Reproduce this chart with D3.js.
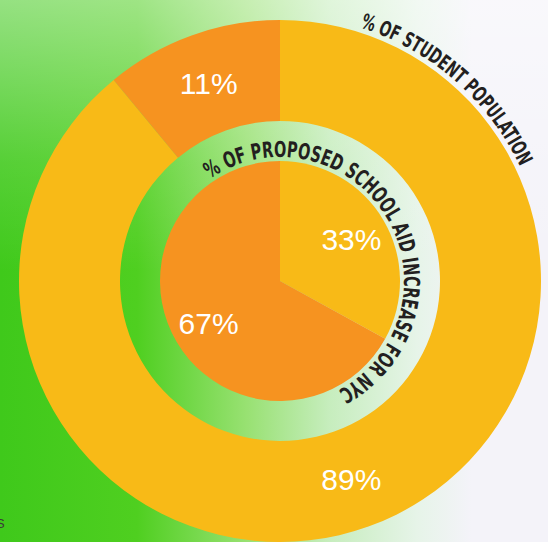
<!DOCTYPE html>
<html>
<head>
<meta charset="utf-8">
<script src="https://cdn.jsdelivr.net/npm/d3@7"></script>
<style>
  html, body { margin: 0; padding: 0; background: #f4f3f9; }
  svg { display: block; }
</style>
</head>
<body>
<svg width="548" height="542"></svg>
<script>
var svg = d3.select('svg');
var svgWidth = +svg.attr('width');
var svgHeight = +svg.attr('height');

// chart data
var outerLabels = ['89%', '11%'];
var outerValues = [89, 11];
var innerLabels = ['33%', '67%'];
var innerValues = [33, 67];
var sliceColors = ['#f8ba17', '#f69320'];
var outerTitle = '% OF STUDENT POPULATION';
var innerTitle = '% OF PROPOSED SCHOOL AID INCREASE FOR NYC';

// layout
var cx = 280, cy = 281;
var outerR = 261, holeR = 160, pieR = 120;

// background: green wash on the left fading to lavender on the right
var defs = svg.append('defs');
var bgGrad = defs.append('linearGradient')
    .attr('id', 'bg')
    .attr('x1', 0).attr('y1', 0).attr('x2', 1).attr('y2', 0);
[[0, '#3fc91b'], [0.25, '#4fcf20'], [0.45, '#98e172'], [0.6, '#c6edbd'],
 [0.76, '#e6f4e8'], [0.86, '#f4f3f9'], [1, '#f4f3f9']].forEach(function(s) {
    bgGrad.append('stop').attr('offset', s[0]).attr('stop-color', s[1]);
});
var topGrad = defs.append('linearGradient')
    .attr('id', 'topfade')
    .attr('x1', 0).attr('y1', 0).attr('x2', 0).attr('y2', 1);
topGrad.append('stop').attr('offset', 0).attr('stop-color', '#ffffff').attr('stop-opacity', 0.45);
topGrad.append('stop').attr('offset', 0.3).attr('stop-color', '#ffffff').attr('stop-opacity', 0.12);
topGrad.append('stop').attr('offset', 0.5).attr('stop-color', '#ffffff').attr('stop-opacity', 0);

svg.append('rect')
    .attr('width', svgWidth).attr('height', svgHeight)
    .attr('fill', 'url(#bg)');
svg.append('rect')
    .attr('width', svgWidth).attr('height', svgHeight)
    .attr('fill', 'url(#topfade)');

var g = svg.append('g')
    .attr('transform', 'translate(' + [cx, cy] + ')');

var pie = d3.pie().sort(null).value(function(d) { return d; });

// outer ring
var outerArc = d3.arc().innerRadius(holeR).outerRadius(outerR);
var outerData = pie(outerValues);
g.selectAll('.outer')
    .data(outerData)
    .enter()
    .append('path')
    .attr('class', 'outer')
    .attr('d', outerArc)
    .attr('fill', function(d, i) { return sliceColors[i]; });

// inner pie
var innerArc = d3.arc().innerRadius(0).outerRadius(pieR);
var innerData = pie(innerValues);
g.selectAll('.inner')
    .data(innerData)
    .enter()
    .append('path')
    .attr('class', 'inner')
    .attr('d', innerArc)
    .attr('fill', function(d, i) { return sliceColors[i]; });

// percentage labels
var labelFont = '"Helvetica Neue", "Liberation Sans", Arial, sans-serif';
g.selectAll('.outer-label')
    .data(outerData)
    .enter()
    .append('text')
    .attr('class', 'outer-label')
    .attr('transform', function(d) { return 'translate(' + outerArc.centroid(d) + ')'; })
    .attr('dy', '0.36em')
    .text(function(d, i) { return outerLabels[i]; })
    .style('text-anchor', 'middle')
    .style('fill', 'white')
    .style('font-size', '30px')
    .style('font-family', labelFont);

var innerLabelArc = d3.arc().innerRadius(83).outerRadius(83);
g.selectAll('.inner-label')
    .data(innerData)
    .enter()
    .append('text')
    .attr('class', 'inner-label')
    .attr('transform', function(d) { return 'translate(' + innerLabelArc.centroid(d) + ')'; })
    .attr('dy', '0.36em')
    .text(function(d, i) { return innerLabels[i]; })
    .style('text-anchor', 'middle')
    .style('fill', 'white')
    .style('font-size', '30px')
    .style('font-family', labelFont);

// curved titles
function arcPath(r, a0, a1) {
    var t0 = a0 * Math.PI / 180, t1 = a1 * Math.PI / 180;
    var large = (a1 - a0) > 180 ? 1 : 0;
    return 'M' + [r * Math.sin(t0), -r * Math.cos(t0)] +
        'A' + [r, r, 0, large, 1, r * Math.sin(t1), -r * Math.cos(t1)];
}

function curvedTitle(id, text, r, a0, a1, size) {
    g.append('path')
        .attr('id', id)
        .attr('d', arcPath(r, a0, a1))
        .attr('fill', 'none');
    var len = r * (a1 - a0) * Math.PI / 180;
    g.append('text')
        .style('font-family', '"Liberation Sans Narrow", "Arial Narrow", "DejaVu Sans Condensed", sans-serif')
        .style('font-weight', 'bold')
        .style('font-size', size + 'px')
        .style('fill', '#231f20')
        .append('textPath')
        .attr('href', '#' + id)
        .attr('textLength', len)
        .attr('lengthAdjust', 'spacingAndGlyphs')
        .text(text);
}

curvedTitle('outer-title-path', outerTitle, 266, 17.5, 64.5, 21);
curvedTitle('inner-title-path', innerTitle, 124, -34.5, 152, 22);

// clipped caption fragment in the bottom-left corner
svg.append('text')
    .attr('x', -4)
    .attr('y', 528)
    .text('S')
    .style('fill', '#3a3a3a')
    .style('font-size', '13px')
    .style('font-family', 'Liberation Sans, Arial, sans-serif');
</script>
</body>
</html>
